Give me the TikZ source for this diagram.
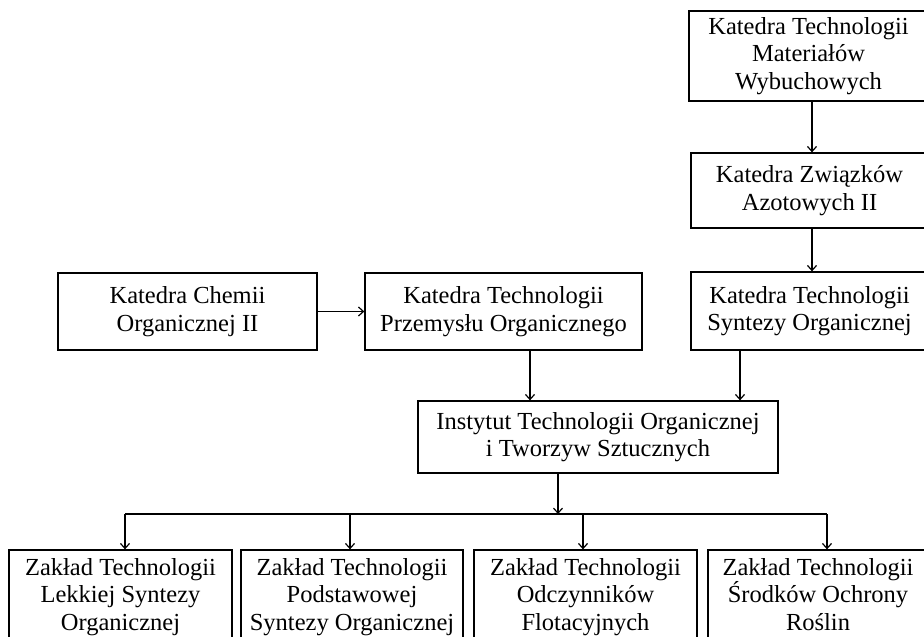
\documentclass[tikz,border=0pt]{standalone}
\usepackage{fontspec}
\setmainfont{Liberation Serif}
\usetikzlibrary{arrows.meta}
\newcommand\orgboxfont{\fontsize{24.5}{27.5}\selectfont\setlength{\lineskiplimit}{-20pt}}
\begin{document}
\begin{tikzpicture}[x=1pt,y=1pt,
  box/.style={draw, line width=1.3pt, inner sep=0pt, align=center,
    font=\orgboxfont},
  arr/.style={line width=1.3pt, -{Straight Barb[length=5pt,width=9pt,line width=1.2pt]}},
  bus/.style={line width=1.3pt}]
\useasboundingbox (0,0) rectangle (924,-637);
\clip (0,0) rectangle (924,-637);
\fill[white] (0,0) rectangle (924,-637);
% right column
\node[box, minimum width=239pt, minimum height=90pt] (b1) at (808.5,-56) {Katedra Technologii\\Materiałów\\Wybuchowych};
\node[box, minimum width=237pt, minimum height=75pt] (b2) at (809.5,-190.5) {Katedra Związków\\Azotowych II};
\node[box, minimum width=237pt, minimum height=78pt] (b3) at (809.5,-311) {Katedra Technologii\\Syntezy Organicznej};
% middle row
\node[box, minimum width=259pt, minimum height=77pt] (c) at (187.5,-311.5) {Katedra Chemii\\Organicznej II};
\node[box, minimum width=277pt, minimum height=77pt] (p) at (503.5,-311.5) {Katedra Technologii\\Przemysłu Organicznego};
% institute
\node[box, minimum width=360pt, minimum height=72pt] (i) at (598,-437) {Instytut Technologii Organicznej\\i Tworzyw Sztucznych};
% bottom row
\node[box, minimum width=223pt, minimum height=94pt] (z1) at (120.5,-597) {Zakład Technologii\\Lekkiej Syntezy\\Organicznej};
\node[box, minimum width=222pt, minimum height=94pt] (z2) at (352,-597) {Zakład Technologii\\Podstawowej\\Syntezy Organicznej};
\node[box, minimum width=223pt, minimum height=94pt] (z3) at (585.5,-597) {Zakład Technologii\\Odczynników\\Flotacyjnych};
\node[box, minimum width=220pt, minimum height=94pt] (z4) at (818,-597) {Zakład Technologii\\Środków Ochrony\\Roślin\vphantom{j}};
% bus coordinates
\coordinate (busL) at (125,-514);
\coordinate (bus2) at (350,-514);
\coordinate (busI) at (558,-514);
\coordinate (bus3) at (583,-514);
\coordinate (busR) at (827,-514);
\coordinate (x1) at (812,0);
\coordinate (x3) at (740,0);
\coordinate (xp) at (530,0);
% connectors
\draw[arr] (b1.south -| x1) -- (b2.north -| x1);
\draw[arr] (b2.south -| x1) -- (b3.north -| x1);
\draw[arr] (b3.south -| x3) -- (i.north -| x3);
\draw[arr] (c.east) -- (p.west);
\draw[arr] (p.south -| xp) -- (i.north -| xp);
\draw[bus] (busL) -- (busR);
\draw[arr] (i.south -| busI) -- (busI);
\draw[arr] (busL) -- (busL |- z1.north);
\draw[arr] (bus2) -- (bus2 |- z2.north);
\draw[arr] (bus3) -- (bus3 |- z3.north);
\draw[arr] (busR) -- (busR |- z4.north);
\end{tikzpicture}
\end{document}
